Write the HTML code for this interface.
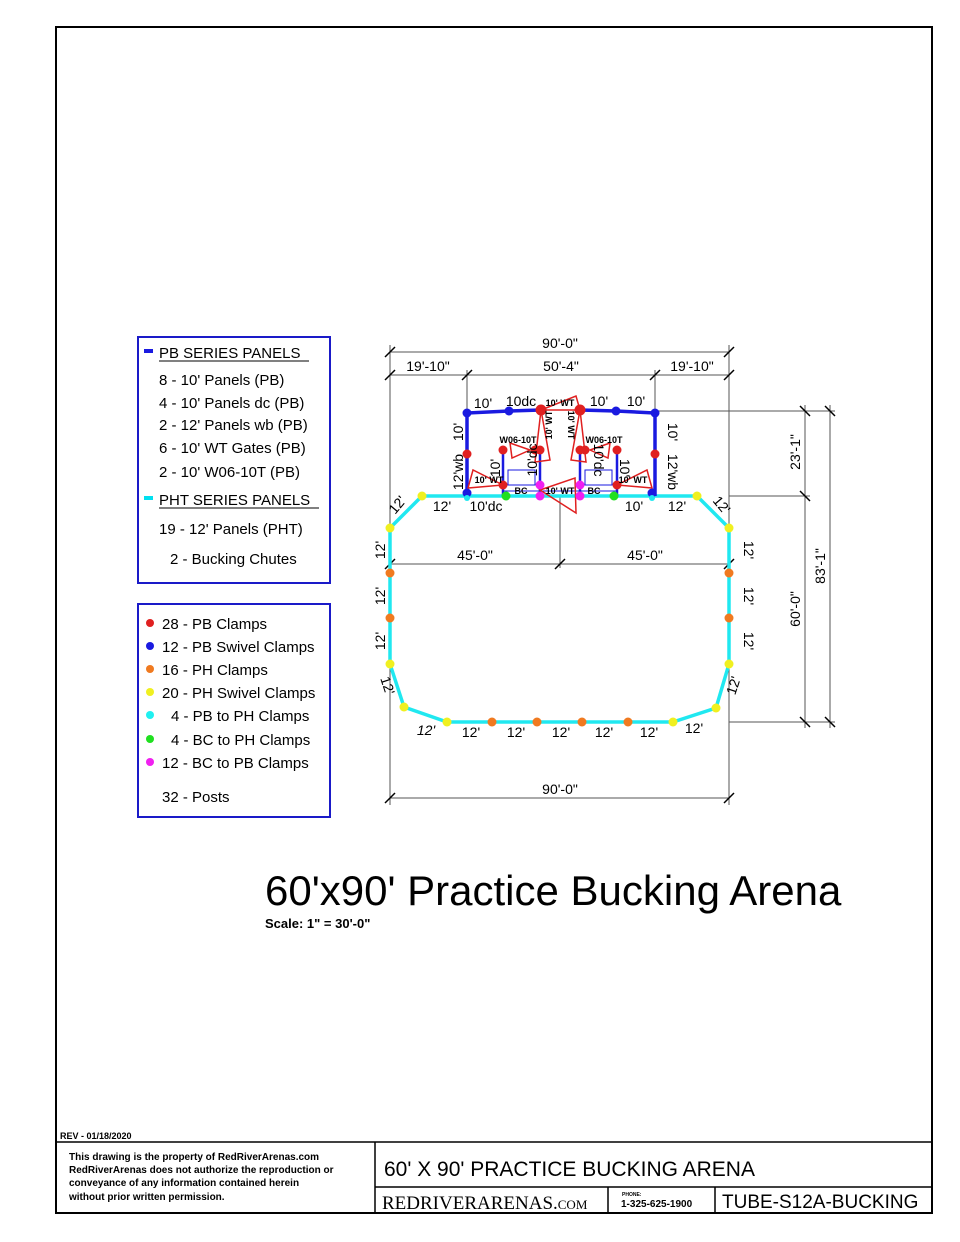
<!DOCTYPE html>
<html><head><meta charset="utf-8"><style>
body{margin:0;background:#fff}
svg{display:block;font-family:"Liberation Sans",Arial,sans-serif}
</style></head><body>
<svg width="960" height="1242" viewBox="0 0 960 1242" xmlns="http://www.w3.org/2000/svg">
<rect x="0" y="0" width="960" height="1242" fill="#fff"/>
<rect x="56" y="27" width="876" height="1186" fill="none" stroke="#000" stroke-width="2"/>
<!-- title block -->
<line x1="56" y1="1142" x2="932" y2="1142" stroke="#000" stroke-width="1.5"/>
<line x1="375" y1="1142" x2="375" y2="1213" stroke="#000" stroke-width="1.5"/>
<line x1="375" y1="1187" x2="932" y2="1187" stroke="#000" stroke-width="1.5"/>
<line x1="608" y1="1187" x2="608" y2="1213" stroke="#000" stroke-width="1.5"/>
<line x1="715" y1="1187" x2="715" y2="1213" stroke="#000" stroke-width="1.5"/>
<text x="60" y="1139" font-size="9" font-weight="bold">REV - 01/18/2020</text>
<g font-size="10" font-weight="bold">
<text x="69" y="1160">This drawing is the property of RedRiverArenas.com</text>
<text x="69" y="1173">RedRiverArenas does not authorize the reproduction or</text>
<text x="69" y="1186">conveyance of any information contained herein</text>
<text x="69" y="1200">without prior written permission.</text>
</g>
<text x="384" y="1176" font-size="21">60' X 90' PRACTICE BUCKING ARENA</text>
<text x="382" y="1209" font-size="19" font-family="Liberation Serif,serif">REDRIVERARENAS.<tspan font-size="13">COM</tspan></text>
<text x="622" y="1196" font-size="5" font-weight="bold">PHONE:</text>
<text x="621" y="1207" font-size="10" font-weight="bold">1-325-625-1900</text>
<text x="722" y="1208" font-size="19">TUBE-S12A-BUCKING</text>

<!-- legends -->
<rect x="138" y="337" width="192" height="246" fill="none" stroke="#1a1ac8" stroke-width="2"/>
<rect x="138" y="604" width="192" height="213" fill="none" stroke="#1a1ac8" stroke-width="2"/>
<g font-size="15">
<rect x="144" y="349" width="9" height="4" fill="#1a1ae0"/>
<text x="159" y="358">PB SERIES PANELS</text><line x1="159" y1="361" x2="309" y2="361" stroke="#000"/>
<text x="159" y="385">8 - 10' Panels (PB)</text>
<text x="159" y="408">4 - 10' Panels dc (PB)</text>
<text x="159" y="430">2 - 12' Panels wb (PB)</text>
<text x="159" y="453">6 - 10' WT Gates (PB)</text>
<text x="159" y="477">2 - 10' W06-10T (PB)</text>
<rect x="144" y="496" width="9" height="4" fill="#00e0f0"/>
<text x="159" y="505">PHT SERIES PANELS</text><line x1="159" y1="508" x2="319" y2="508" stroke="#000"/>
<text x="159" y="534">19 - 12' Panels (PHT)</text>
<text x="170" y="564">2 - Bucking Chutes</text>
<circle cx="150" cy="623" r="4" fill="#e02020"/><text x="162" y="629">28 - PB Clamps</text>
<circle cx="150" cy="646" r="4" fill="#1a1ae0"/><text x="162" y="652">12 - PB Swivel Clamps</text>
<circle cx="150" cy="669" r="4" fill="#f07a20"/><text x="162" y="675">16 - PH Clamps</text>
<circle cx="150" cy="692" r="4" fill="#f0f020"/><text x="162" y="698">20 - PH Swivel Clamps</text>
<circle cx="150" cy="715" r="4" fill="#20f0f0"/><text x="171" y="721">4 - PB to PH Clamps</text>
<circle cx="150" cy="739" r="4" fill="#20e020"/><text x="171" y="745">4 - BC to PH Clamps</text>
<circle cx="150" cy="762" r="4" fill="#f020f0"/><text x="162" y="768">12 - BC to PB Clamps</text>
<text x="162" y="802">32 - Posts</text>
</g>

<!-- dimension lines -->
<g stroke="#555" stroke-width="1" fill="none">
<line x1="390" y1="352" x2="729" y2="352"/>
<line x1="390" y1="375" x2="729" y2="375"/>
<line x1="390" y1="345" x2="390" y2="805"/>
<line x1="729" y1="345" x2="729" y2="805"/>
<line x1="467" y1="370" x2="467" y2="411"/>
<line x1="655" y1="370" x2="655" y2="411"/>
<line x1="655" y1="411" x2="835" y2="411"/>
<line x1="729" y1="496" x2="810" y2="496"/>
<line x1="729" y1="722" x2="835" y2="722"/>
<line x1="805" y1="405" x2="805" y2="728"/>
<line x1="830" y1="405" x2="830" y2="728"/>
<line x1="390" y1="564" x2="729" y2="564"/>
<line x1="560" y1="496" x2="560" y2="568"/>
<line x1="390" y1="798" x2="729" y2="798"/>
</g>
<g stroke="#000" stroke-width="1.5">
<path d="M385 357l10-10M724 357l10-10M385 380l10-10M462 380l10-10M650 380l10-10M724 380l10-10M800 406l10 10M825 406l10 10M800 491l10 10M800 717l10 10M825 717l10 10M385 569l10-10M555 569l10-10M724 569l10-10M385 803l10-10M724 803l10-10"/>
</g>
<g font-size="14" text-anchor="middle">
<text x="560" y="348">90'-0"</text>
<text x="428" y="371">19'-10"</text>
<text x="561" y="371">50'-4"</text>
<text x="692" y="371">19'-10"</text>
<text x="475" y="560">45'-0"</text>
<text x="645" y="560">45'-0"</text>
<text x="560" y="794">90'-0"</text>
<text transform="translate(800,452) rotate(-90)">23'-1"</text>
<text transform="translate(800,609) rotate(-90)">60'-0"</text>
<text transform="translate(825,566) rotate(-90)">83'-1"</text>
</g>

<!-- arena PHT -->
<polygon points="422,496 697,496 729,528 729,664 716,708 673,722 447,722 404,707 390,664 390,528" fill="none" stroke="#20e8f0" stroke-width="3.5"/>
<!-- PB -->
<g stroke="#1a1ae0" stroke-width="3.5" fill="none">
<polyline points="467,496 467,413 509,411 541,410"/>
<polyline points="580,410 616,411 655,413 655,496"/>
</g>
<g stroke="#1a1ae0" stroke-width="2.5" fill="none">
<line x1="503" y1="450" x2="503" y2="496"/><line x1="540" y1="450" x2="540" y2="496"/>
<line x1="580" y1="450" x2="580" y2="496"/><line x1="617" y1="450" x2="617" y2="496"/>
<rect x="508" y="470" width="27" height="15" stroke-width="1"/>
<rect x="585" y="470" width="27" height="15" stroke-width="1"/>
<line x1="503" y1="491" x2="617" y2="491" stroke-width="1"/>
</g>
<!-- gates red -->
<g stroke="#e02020" stroke-width="1.5" fill="none">
<polygon points="541,410 576,396 580,410"/>
<polygon points="541,410 550,460 535,462"/>
<polygon points="580,410 571,460 586,462"/>
<polygon points="530,450 510,443 512,458"/>
<polygon points="590,450 610,443 608,458"/>
<polygon points="503,485 473,470 468,488"/>
<polygon points="617,485 647,470 652,488"/>
<polygon points="540,490 575,478 576,513"/>
</g>
<!-- dots -->
<g fill="#e02020">
<circle cx="541" cy="410" r="5.5"/><circle cx="580" cy="410" r="5.5"/>
<circle cx="467" cy="454" r="4.5"/><circle cx="655" cy="454" r="4.5"/>
<circle cx="503" cy="450" r="4.5"/><circle cx="535" cy="450" r="4.5"/><circle cx="540" cy="450" r="4.5"/>
<circle cx="580" cy="450" r="4.5"/><circle cx="585" cy="450" r="4.5"/><circle cx="617" cy="450" r="4.5"/>
<circle cx="503" cy="485" r="4.5"/><circle cx="617" cy="485" r="4.5"/>
</g>
<g fill="#1a1ae0">
<circle cx="467" cy="413" r="4.5"/><circle cx="509" cy="411" r="4.5"/><circle cx="616" cy="411" r="4.5"/><circle cx="655" cy="413" r="4.5"/>
<circle cx="467" cy="493" r="4.5"/><circle cx="652" cy="493" r="4.5"/>
</g>
<g fill="#f020f0"><circle cx="540" cy="485" r="4.5"/><circle cx="580" cy="485" r="4.5"/><circle cx="540" cy="496" r="4.5"/><circle cx="580" cy="496" r="4.5"/></g>
<g fill="#20e020"><circle cx="506" cy="496" r="4.5"/><circle cx="614" cy="496" r="4.5"/></g>
<g fill="#f0f020">
<circle cx="422" cy="496" r="4.5"/><circle cx="697" cy="496" r="4.5"/><circle cx="390" cy="528" r="4.5"/><circle cx="729" cy="528" r="4.5"/>
<circle cx="390" cy="664" r="4.5"/><circle cx="729" cy="664" r="4.5"/><circle cx="404" cy="707" r="4.5"/><circle cx="716" cy="708" r="4.5"/>
<circle cx="447" cy="722" r="4.5"/><circle cx="673" cy="722" r="4.5"/>
</g>
<g fill="#f07a20">
<circle cx="390" cy="573" r="4.5"/><circle cx="390" cy="618" r="4.5"/><circle cx="729" cy="573" r="4.5"/><circle cx="729" cy="618" r="4.5"/>
<circle cx="492" cy="722" r="4.5"/><circle cx="537" cy="722" r="4.5"/><circle cx="582" cy="722" r="4.5"/><circle cx="628" cy="722" r="4.5"/>
</g>
<g fill="#20e8f0"><circle cx="467" cy="498" r="3"/><circle cx="652" cy="498" r="3"/></g>

<!-- panel labels -->
<g font-size="14" text-anchor="middle">
<text x="483" y="408">10'</text><text x="521" y="406">10dc</text><text x="599" y="406">10'</text><text x="636" y="406">10'</text>
<text x="442" y="511">12'</text><text x="486" y="511">10'dc</text><text x="634" y="511">10'</text><text x="677" y="511">12'</text>
<text x="426" y="735" font-style="italic">12'</text><text x="471" y="737">12'</text><text x="516" y="737">12'</text><text x="561" y="737">12'</text><text x="604" y="737">12'</text><text x="649" y="737">12'</text><text x="694" y="733">12'</text>
<text transform="translate(463,432) rotate(-90)">10'</text>
<text transform="translate(463,472) rotate(-90)">12'wb</text>
<text transform="translate(668,432) rotate(90)">10'</text>
<text transform="translate(668,472) rotate(90)">12'wb</text>
<text transform="translate(385,550) rotate(-90)">12'</text>
<text transform="translate(385,596) rotate(-90)">12'</text>
<text transform="translate(385,641) rotate(-90)">12'</text>
<text transform="translate(744,550) rotate(90)">12'</text>
<text transform="translate(744,596) rotate(90)">12'</text>
<text transform="translate(744,641) rotate(90)">12'</text>
<text transform="translate(401,508) rotate(-50)">12'</text>
<text transform="translate(718,508) rotate(50)">12'</text>
<text transform="translate(383,687) rotate(72)">12'</text>
<text transform="translate(738,687) rotate(-72)">12'</text>
<text transform="translate(500,468) rotate(-90)">10'</text>
<text transform="translate(537,460) rotate(-90)">10'dc</text>
<text transform="translate(594,460) rotate(90)">10'dc</text>
<text transform="translate(620,468) rotate(90)">10'</text>
</g>
<g font-size="9" font-weight="bold" text-anchor="middle">
<text x="560" y="406">10' WT</text>
<text x="518" y="443">W06-10T</text><text x="604" y="443">W06-10T</text>
<text x="489" y="483">10' WT</text><text x="633" y="483">10' WT</text>
<text x="521" y="494">BC</text><text x="594" y="494">BC</text>
<text x="560" y="494">10' WT</text>
<text transform="translate(552,425) rotate(-90)">10' WT</text>
<text transform="translate(568,425) rotate(90)">10' WT</text>
</g>

<!-- title -->
<text x="265" y="905" font-size="42">60'x90' Practice Bucking Arena</text>
<text x="265" y="928" font-size="13" font-weight="bold">Scale: 1" = 30'-0"</text>
</svg>
</body></html>
